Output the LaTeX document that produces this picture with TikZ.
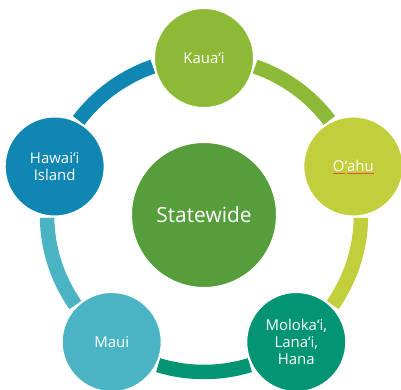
\documentclass[tikz,border=0pt]{standalone}
\usepackage{fontspec}
\setmainfont{Open Sans}
\usetikzlibrary{calc,backgrounds}

\definecolor{hawaiiblue}{HTML}{0F87B2}
\definecolor{kauaigreen}{HTML}{8CB936}
\definecolor{oahulime}{HTML}{C2CF3C}
\definecolor{molokaiteal}{HTML}{039473}
\definecolor{mauicyan}{HTML}{4BB4C4}
\definecolor{statewidegreen}{HTML}{559E3B}
\definecolor{spellred}{HTML}{E8503A}

\newcommand\spellmark[1]{\setbox0\hbox{#1}\rlap{\textcolor{spellred}{\rule[-2.2bp]{\wd0}{0.7bp}}}\box0}

\begin{document}
\begin{tikzpicture}[x=1bp,y=1bp,
    isle/.style={circle,fill=#1,draw=white,line width=2bp,minimum size=100bp,
        inner sep=0pt,outer sep=3bp,text=white,align=center,
        font=\fontsize{15}{17}\selectfont},
    ring/.style={draw=#1,line width=14.5bp}]
    \useasboundingbox (0,0) rectangle (401,390);

    % Draw the centre
    \coordinate (c) at (204,175);
    \node[isle=statewidegreen,minimum size=146bp,font=\fontsize{21}{24}\selectfont] (state) at (c) {Statewide};

    % Draw the islands round it
    \node[isle=kauaigreen] (kauai) at ($(c)+(90:157)$) {Kaua‘i};
    \node[isle=oahulime] (oahu) at ($(c)+(18:157)$) {\spellmark{O}‘\spellmark{ahu}};
    \node[isle=molokaiteal] (molokai) at ($(c)+(-54:157)$) {Moloka‘i,\\Lana‘i,\\Hana};
    \node[isle=mauicyan] (maui) at ($(c)+(-126:157)$) {Maui};
    \node[isle=hawaiiblue] (hawaii) at ($(c)+(162:157)$) {Hawai‘i\\Island};

    % Draw the ring between the islands
    \begin{scope}[on background layer]
        \foreach \a/\col in {162/hawaiiblue,90/kauaigreen,18/oahulime,-54/molokaiteal,-126/mauicyan}
            \draw[ring=\col] ($(c)+(\a-19:157)$) arc[start angle=\a-19, delta angle=-34, radius=157];
    \end{scope}
\end{tikzpicture}
\end{document}
